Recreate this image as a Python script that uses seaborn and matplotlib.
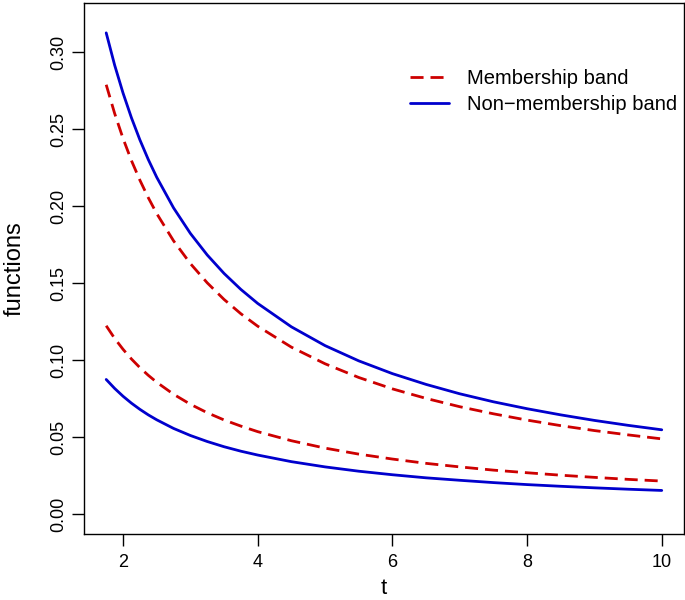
#!/usr/bin/env python3
"""Membership / non-membership bands as functions of t (R-style base plot look)."""

import pandas as pd
import matplotlib
matplotlib.use("Agg")
import matplotlib.pyplot as plt
from matplotlib.lines import Line2D
import seaborn as sns

# values
t_vals = [1.75, 1.875, 2.0, 2.125, 2.25, 2.375, 2.5, 2.75, 3.0, 3.25, 3.5, 3.75, 4.0,
          4.5, 5.0, 5.5, 6.0, 6.5, 7.0, 7.5, 8.0, 8.5, 9.0, 9.5, 10.0]
memb_upper = [0.2789, 0.2603, 0.2440, 0.2296, 0.2169, 0.2055, 0.1952, 0.1775, 0.1627,
              0.1502, 0.1394, 0.1301, 0.1220, 0.1084, 0.0976, 0.0887, 0.0813, 0.0751,
              0.0697, 0.0651, 0.0610, 0.0574, 0.0542, 0.0514, 0.0488]
memb_lower = [0.1223, 0.1141, 0.1070, 0.1007, 0.0951, 0.0901, 0.0856, 0.0778, 0.0713,
              0.0658, 0.0611, 0.0571, 0.0535, 0.0476, 0.0428, 0.0389, 0.0357, 0.0329,
              0.0306, 0.0285, 0.0268, 0.0252, 0.0238, 0.0225, 0.0214]
nonmemb_upper = [0.3126, 0.2917, 0.2735, 0.2574, 0.2431, 0.2303, 0.2188, 0.1989, 0.1823,
                 0.1683, 0.1563, 0.1459, 0.1368, 0.1216, 0.1094, 0.0995, 0.0912, 0.0842,
                 0.0781, 0.0729, 0.0684, 0.0644, 0.0608, 0.0576, 0.0547]
nonmemb_lower = [0.0874, 0.0816, 0.0765, 0.0720, 0.0680, 0.0644, 0.0612, 0.0556, 0.0510,
                 0.0471, 0.0437, 0.0408, 0.0383, 0.0340, 0.0306, 0.0278, 0.0255, 0.0235,
                 0.0219, 0.0204, 0.0191, 0.0180, 0.0170, 0.0161, 0.0153]

band_labels = ["Membership band", "Non\u2212membership band"]
x_ticks = [2, 4, 6, 8, 10]
y_ticks = [0.00, 0.05, 0.10, 0.15, 0.20, 0.25, 0.30]

RED = "#CD0000"
BLUE = "#0000CD"

# long-form table for seaborn
rows = []
for band, curve, vals in [(band_labels[0], "mu", memb_upper),
                          (band_labels[0], "ml", memb_lower),
                          (band_labels[1], "nu", nonmemb_upper),
                          (band_labels[1], "nl", nonmemb_lower)]:
    for t, v in zip(t_vals, vals):
        rows.append({"t": t, "value": v, "band": band, "curve": curve})
df = pd.DataFrame(rows)

sns.set_theme(style="ticks")
plt.rcParams["font.family"] = ["Liberation Sans", "DejaVu Sans"]
plt.rcParams["text.color"] = "black"
plt.rcParams["axes.labelcolor"] = "black"

fig = plt.figure(figsize=(6.85, 6.0), dpi=100)
ax = fig.add_axes([0.1226, 0.11, 0.8759, 0.885])

LW = 2.0
dash = (4.7, 2.5)
sns.lineplot(data=df, x="t", y="value", hue="band", style="band", units="curve",
             estimator=None, palette={band_labels[0]: RED, band_labels[1]: BLUE},
             dashes={band_labels[0]: dash, band_labels[1]: ""},
             linewidth=LW, legend=False, ax=ax)

ax.set_xlim(1.42, 10.33)
ax.set_ylim(-0.013, 0.332)
ax.set_xticks(x_ticks)
ax.set_xticklabels([str(x) for x in x_ticks])
ax.set_yticks(y_ticks)
ax.set_yticklabels([f"{y:.2f}" for y in y_ticks], rotation=90, va="center")
ax.tick_params(axis="both", labelsize=13, length=8.5, width=1.0, colors="black")
ax.tick_params(axis="x", pad=6)
ax.tick_params(axis="y", pad=3.5)
ax.set_xlabel("t", fontsize=16, labelpad=5)
ax.set_ylabel("functions", fontsize=17, labelpad=18)
for sp in ax.spines.values():
    sp.set_visible(True)
    sp.set_color("black")
    sp.set_linewidth(1.0)
ax.grid(False)

handles = [Line2D([], [], color=RED, lw=LW, dashes=dash),
           Line2D([], [], color=BLUE, lw=LW)]
ax.legend(handles, band_labels, loc="upper left", bbox_to_anchor=(0.5433, 0.875),
          frameon=False, fontsize=14.5, handlelength=1.95, handletextpad=0.9,
          labelspacing=0.32, borderpad=0, borderaxespad=0)

fig.savefig("out.png", dpi=100)
